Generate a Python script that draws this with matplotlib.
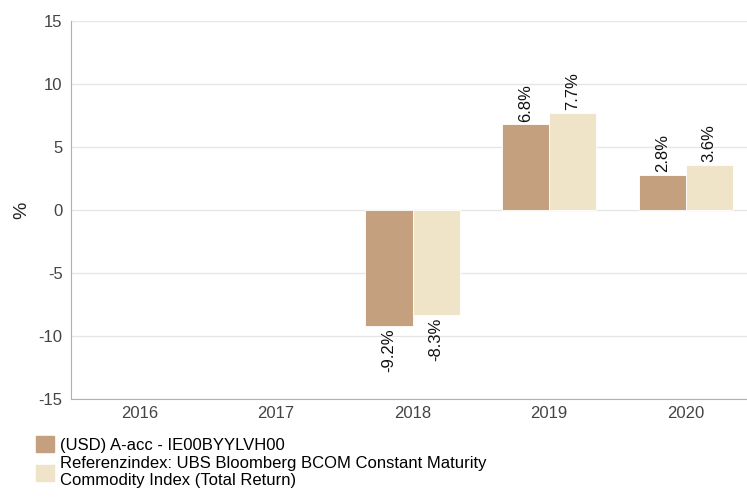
import matplotlib
matplotlib.use('Agg')
import matplotlib.pyplot as plt
import numpy as np

years = ['2016', '2017', '2018', '2019', '2020']
fund = [np.nan, np.nan, -9.2, 6.8, 2.8]
index = [np.nan, np.nan, -8.3, 7.7, 3.6]
fund_label = '(USD) A-acc - IE00BYYLVH00'
index_label = 'Referenzindex: UBS Bloomberg BCOM Constant Maturity\nCommodity Index (Total Return)'

c_fund = '#c4a07f'
c_index = '#efe3c8'

plt.rcParams['font.family'] = ['Liberation Sans', 'DejaVu Sans']
plt.rcParams['axes.unicode_minus'] = False

fig = plt.figure(figsize=(7.47, 5.04), dpi=100)
ax = fig.add_axes([71 / 747, 1 - 399 / 504, 683 / 747, 378 / 504])

x = np.arange(len(years))
w = 0.345
b1 = ax.bar(x - w / 2, fund, w, color=c_fund, edgecolor='white', linewidth=0.6, zorder=3)
b2 = ax.bar(x + w / 2, index, w, color=c_index, edgecolor='white', linewidth=0.6, zorder=3)

for bars, vals in ((b1, fund), (b2, index)):
    for bar, v in zip(bars, vals):
        if np.isnan(v):
            continue
        cx = bar.get_x() + bar.get_width() / 2
        if v >= 0:
            ax.annotate(f'{v:.1f}%', (cx, v), xytext=(0, 2), textcoords='offset points',
                        rotation=90, ha='center', va='bottom', fontsize=12, color='#111111')
        else:
            ax.annotate(f'{v:.1f}%', (cx, v), xytext=(0, -2), textcoords='offset points',
                        rotation=90, ha='center', va='top', fontsize=12, color='#111111')

ax.set_xlim(-0.5, len(years) - 0.5)
ax.set_ylim(-15, 15)
ax.set_yticks(range(-15, 16, 5))
ax.set_xticks(x)
ax.set_xticklabels(years)
ax.yaxis.grid(True, color='#e6e6e6', linewidth=1, zorder=0)
ax.set_axisbelow(True)
for s in ('top', 'right'):
    ax.spines[s].set_visible(False)
for s in ('left', 'bottom'):
    ax.spines[s].set_color('#b0b0b0')
ax.tick_params(axis='both', length=0, labelsize=12, labelcolor='#444444')
ax.tick_params(axis='x', pad=5)
ax.tick_params(axis='y', pad=6)
ax.set_ylabel('%', fontsize=14, color='#222222', labelpad=6)

handles = [plt.Rectangle((0, 0), 1, 1, color=c_fund), plt.Rectangle((0, 0), 1, 1, color=c_index)]
fig.legend(handles, [fund_label, index_label], loc='upper left', bbox_to_anchor=(21 / 747, 1 - 421 / 504),
           frameon=False, handlelength=1.1, handleheight=1.1, handletextpad=0.35, labelspacing=0.2,
           prop={'size': 12})

fig.savefig('out.png', dpi=100)
